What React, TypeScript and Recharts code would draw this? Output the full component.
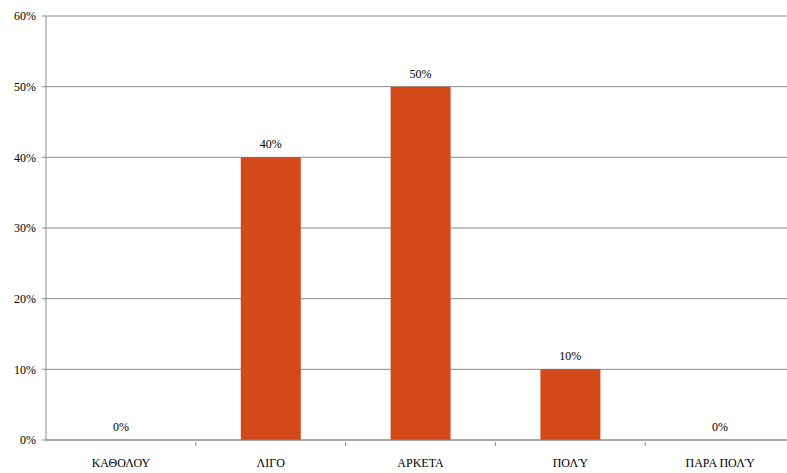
import { ComposedChart, Bar, Line, XAxis, YAxis, CartesianGrid, LabelList } from "recharts";

const categories = ["ΚΑΘΟΛΟΥ", "ΛΙΓΟ", "ΑΡΚΕΤΑ", "ΠΟΛΎ", "ΠΑΡΑ ΠΟΛΎ"];
const shares = [0, 40, 50, 10, 0];
const yTicks = [0, 10, 20, 30, 40, 50, 60];

const data = categories.map((name, i) => ({ name, value: shares[i] }));

const CHART_W = 795;
const CHART_H = 473;
const Y_AXIS_W = 46;
const band = (CHART_W - Y_AXIS_W) / categories.length;
const font = "Liberation Serif";
const grey = "#8a8a8a";

const CategoryTick = (props: any) => {
    const { x, y, payload, index } = props;
    return (
        <g>
            {index > 0 && (
                <line x1={x - band / 2} x2={x - band / 2} y1={y - 6} y2={y - 2} stroke={grey} />
            )}
            <text x={x} y={y + 19} textAnchor="middle" fontSize={12} fontFamily={font} fill="#000">
                {payload.value}
            </text>
        </g>
    );
};

export default function App() {
    return (
        <div style={{ position: "fixed", left: 0, top: 0, width: 787, height: 473, overflow: "hidden", background: "#fff", fontFamily: font }}>
            <ComposedChart
                width={CHART_W}
                height={CHART_H}
                data={data}
                margin={{ top: 16, right: 0, bottom: 0, left: 0 }}
                barCategoryGap={45}
            >
                <CartesianGrid vertical={false} stroke={grey} />
                <XAxis
                    dataKey="name"
                    height={33}
                    axisLine={{ stroke: grey }}
                    tickLine={false}
                    tick={<CategoryTick />}
                    interval={0}
                />
                <YAxis
                    width={Y_AXIS_W}
                    domain={[0, 60]}
                    ticks={yTicks}
                    tickFormatter={(v) => `${v}%`}
                    axisLine={{ stroke: grey }}
                    tickLine={{ stroke: grey }}
                    tickSize={4}
                    tickMargin={6}
                    tick={{ fontSize: 12, fill: "#000", fontFamily: font }}
                />
                <Bar dataKey="value" fill="#D3491A" isAnimationActive={false} />
                <Line dataKey="value" stroke="none" dot={false} activeDot={false} isAnimationActive={false}>
                    <LabelList
                        dataKey="value"
                        position="top"
                        offset={9}
                        formatter={(v: any) => `${v}%`}
                        style={{ fontSize: 12, fill: "#000", fontFamily: font }}
                    />
                </Line>
            </ComposedChart>
        </div>
    );
}
